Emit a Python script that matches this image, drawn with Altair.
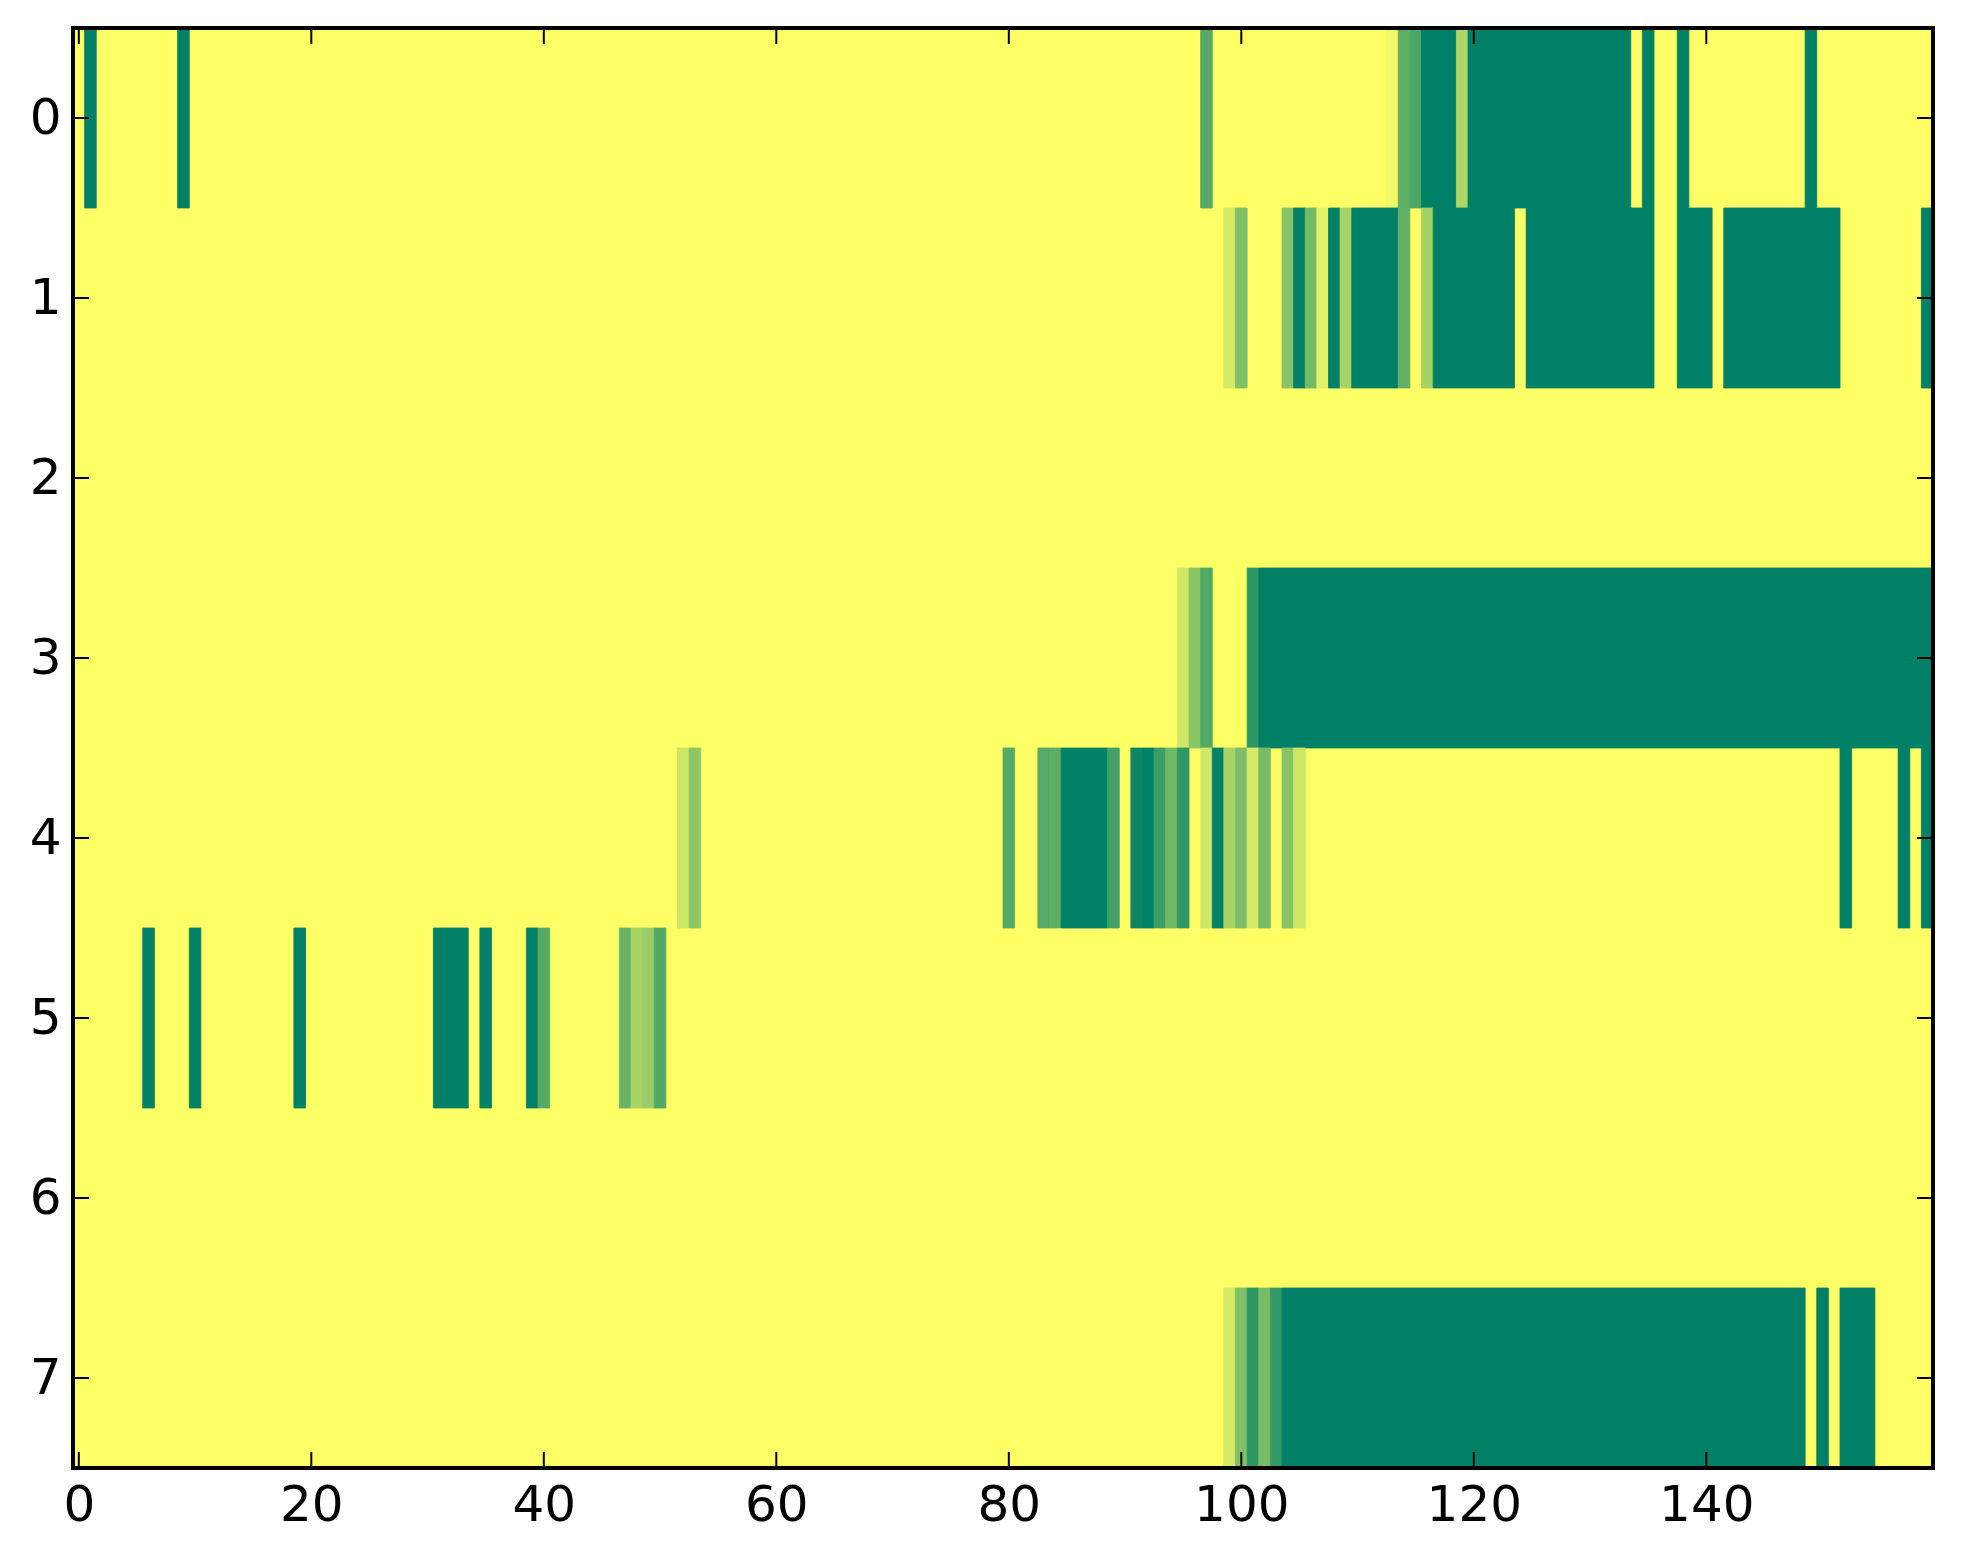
import altair as alt
import pandas as pd

# Each row: runs of [first_col, last_col, value] (value 0 = background)
row0 = [[1, 1, 1.0], [9, 9, 1.0], [97, 97, 0.67], [113, 113, 0.05], [114, 114, 0.63],
        [115, 115, 0.70], [116, 118, 1.0], [119, 119, 0.32], [120, 133, 1.0],
        [135, 135, 1.0], [138, 138, 1.0], [149, 149, 1.0]]
row1 = [[99, 99, 0.17], [100, 100, 0.50], [104, 104, 0.47], [105, 105, 1.0],
        [106, 106, 0.55], [107, 107, 0.11], [108, 108, 1.0], [109, 109, 0.34],
        [110, 113, 1.0], [114, 114, 0.62], [116, 116, 0.35], [117, 123, 1.0],
        [125, 135, 1.0], [138, 140, 1.0], [142, 151, 1.0], [159, 159, 1.0]]
row2 = []
row3 = [[95, 95, 0.18], [96, 96, 0.46], [97, 97, 0.68], [101, 101, 0.82], [102, 159, 1.0]]
row4 = [[52, 52, 0.20], [53, 53, 0.44], [80, 80, 0.67], [83, 83, 0.67], [84, 84, 0.63],
        [85, 88, 1.0], [89, 89, 0.74], [91, 91, 0.95], [92, 92, 1.0], [93, 93, 0.77],
        [94, 94, 0.56], [95, 95, 0.81], [97, 97, 0.18], [98, 98, 1.0], [99, 99, 0.34],
        [100, 100, 0.51], [101, 101, 0.16], [102, 102, 0.53], [104, 104, 0.47],
        [105, 105, 0.20], [152, 152, 1.0], [157, 157, 1.0], [159, 159, 1.0]]
row5 = [[6, 6, 1.0], [10, 10, 1.0], [19, 19, 1.0], [31, 33, 1.0], [35, 35, 1.0],
        [39, 39, 1.0], [40, 40, 0.67], [47, 47, 0.60], [48, 48, 0.34], [49, 49, 0.40],
        [50, 50, 0.68]]
row6 = []
row7 = [[99, 99, 0.17], [100, 100, 0.50], [101, 101, 0.82], [102, 102, 0.53],
        [103, 103, 0.80], [104, 148, 1.0], [150, 150, 1.0], [152, 154, 1.0]]

rows = [row0, row1, row2, row3, row4, row5, row6, row7]
x_ticks = [0, 20, 40, 60, 80, 100, 120, 140]
y_ticks = [0, 1, 2, 3, 4, 5, 6, 7]

n_cols = 160
n_rows = 8
W, H = 1860, 1440
TICK = 16
FONT = "DejaVu Sans"

recs = []
for r, runs in enumerate(rows):
    for s, e, v in runs:
        recs.append({"x0": s - 0.5, "x1": e + 0.5, "y0": r - 0.5, "y1": r + 0.5, "v": v})
df = pd.DataFrame(recs)

xscale = alt.Scale(domain=[-0.5, n_cols - 0.5], nice=False, zero=False)
yscale = alt.Scale(domain=[-0.5, n_rows - 0.5], nice=False, zero=False, reverse=True)
cscale = alt.Scale(domain=[0, 1], range=["#ffff66", "#008066"], interpolate="rgb")

xaxis = alt.Axis(values=x_ticks, format="d", ticks=False, domain=False, grid=False,
                 labelFontSize=50, labelFont=FONT, labelColor="black", labelPadding=12,
                 labelFlush=False, labelOverlap=False, title=None)
yaxis = alt.Axis(values=y_ticks, format="d", ticks=False, domain=False, grid=False,
                 labelFontSize=50, labelFont=FONT, labelColor="black", labelPadding=12,
                 labelFlush=False, labelOverlap=False, title=None)

cells = alt.Chart(df).mark_rect(strokeWidth=0.8).encode(
    x=alt.X("x0:Q", scale=xscale, axis=xaxis),
    x2="x1:Q",
    y=alt.Y("y0:Q", scale=yscale, axis=yaxis),
    y2="y1:Q",
    color=alt.Color("v:Q", scale=cscale, legend=None),
    stroke=alt.Stroke("v:Q", scale=cscale, legend=None),
)

xt = pd.DataFrame({"x0": x_ticks})
yt = pd.DataFrame({"y0": y_ticks})

top_ticks = alt.Chart(xt).mark_rule(color="black", strokeWidth=2).encode(
    x=alt.X("x0:Q", scale=xscale), y=alt.value(0), y2=alt.value(TICK))
bot_ticks = alt.Chart(xt).mark_rule(color="black", strokeWidth=2).encode(
    x=alt.X("x0:Q", scale=xscale), y=alt.value(H - TICK), y2=alt.value(H))
left_ticks = alt.Chart(yt).mark_rule(color="black", strokeWidth=2).encode(
    y=alt.Y("y0:Q", scale=yscale), x=alt.value(0), x2=alt.value(TICK))
right_ticks = alt.Chart(yt).mark_rule(color="black", strokeWidth=2).encode(
    y=alt.Y("y0:Q", scale=yscale), x=alt.value(W - TICK), x2=alt.value(W))

frame = alt.Chart(pd.DataFrame({"a": [0]})).mark_rect(
    fill="transparent", stroke="black", strokeWidth=4).encode(
    x=alt.value(0), x2=alt.value(W), y=alt.value(0), y2=alt.value(H))

chart = alt.layer(cells, top_ticks, bot_ticks, left_ticks, right_ticks, frame).properties(
    width=W, height=H,
    autosize=alt.AutoSizeParams(type="none"),
    padding={"left": 65, "top": 20, "right": 10, "bottom": 70},
    background="white",
).configure_view(fill="#ffff66", stroke="transparent")

chart.save("out.html", embed_options={"renderer": "svg", "actions": False})
